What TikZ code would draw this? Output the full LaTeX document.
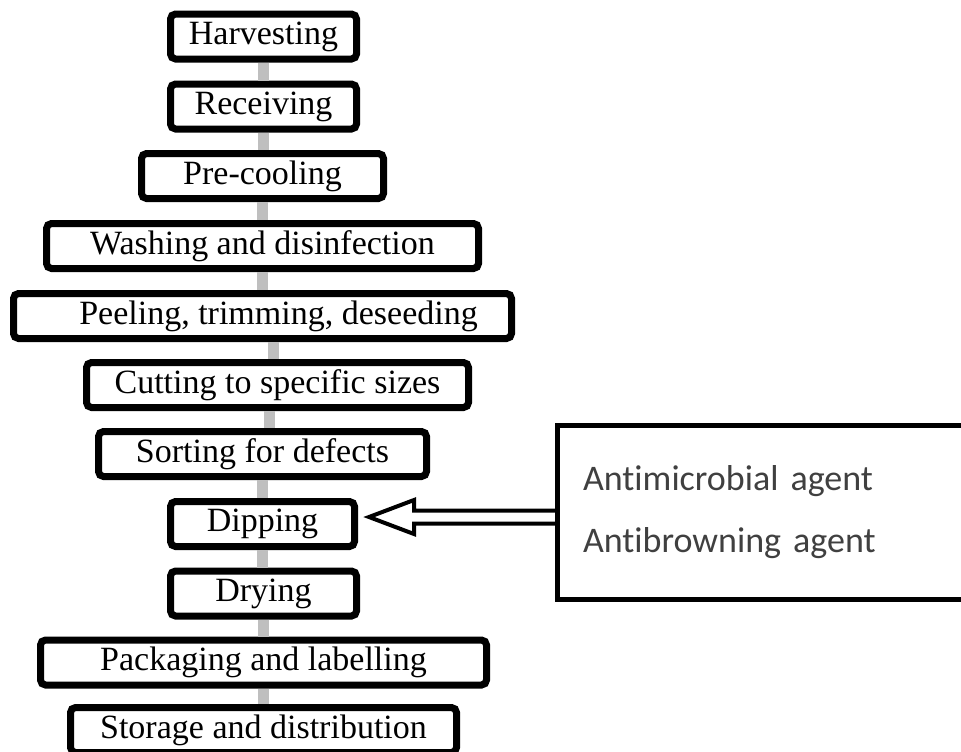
\documentclass[tikz,border=0pt]{standalone}
\usepackage{fontspec}
\setmainfont{Liberation Serif}
\newfontfamily\agentfont[Ligatures=NoCommon]{Carlito}
\usetikzlibrary{arrows.meta,positioning,calc,shadows}

\begin{document}
\begin{tikzpicture}[x=0.5pt,y=-0.5pt,
    stage/.style={draw,line width=3.5pt,rounded corners=2.5pt,fill=white,
      minimum height=22.5pt,inner sep=0pt,font=\fontsize{17}{20}\selectfont,
      drop shadow={opacity=0.2,shadow xshift=1pt,shadow yshift=-1pt}},
    link/.style={line width=5.5pt,draw=gray!50},
    hollow/.style={line width=2pt,line join=miter}]
    \useasboundingbox (0,0) rectangle (961,751);
    \clip (0,0) rectangle (961,751);
    % process stages, top to bottom
    \node[stage,minimum width=93pt]  (harv)    at (263.5,36.5) {Harvesting};
    \node[stage,minimum width=93pt]  (recv)    at (263.5,106.5) {Receiving};
    \node[stage,minimum width=121pt] (precool) at (262.5,176) {Pre-cooling};
    \node[stage,minimum width=216pt] (wash)    at (262.5,246) {Washing and disinfection};
    \node[stage,minimum width=249pt] (peel)    at (262.5,316) {\hspace*{16pt}Peeling, trimming, deseeding};
    \node[stage,minimum width=191pt] (cut)     at (277.5,385) {Cutting to specific sizes};
    \node[stage,minimum width=164pt] (sort)    at (262.5,454) {Sorting for defects};
    \node[stage,minimum width=92pt]  (dip)     at (262.5,524) {Dipping};
    \node[stage,minimum width=93pt]  (dry)     at (263.5,593.5) {Drying};
    \node[stage,minimum width=223pt] (pack)    at (263.5,662.5) {Packaging and labelling};
    \node[stage,minimum width=193pt] (store)   at (263.5,730) {Storage and distribution};
    % gray links between stages
    \foreach \a/\b in {harv/recv,recv/precool,precool/wash,wash/peel,
                       sort/dip,dip/dry,dry/pack,pack/store}
      \draw[link] (\a.south) -- (\a.south |- \b.north);
    \draw[link] ([xshift=-2pt]cut.north |- peel.south) -- ([xshift=-2pt]cut.north);
    \draw[link] ([xshift=-4pt]cut.south) -- ([xshift=-4pt]cut.south |- sort.north);
    % agents box
    \node[draw,line width=2.5pt,minimum width=211.25pt,minimum height=87pt,
          text width=185.75pt,align=left,inner sep=0pt,text=black!75,
          font=\agentfont\fontsize{18}{31}\selectfont]
      (agents) at (768.75,512.5) {Antimicrobial agent\\Antibrowning agent};
    % hollow arrow into dipping
    \coordinate (tip) at ([xshift=5.5pt,yshift=3.5pt]dip.east);
    \draw[hollow] ($(agents.west |- tip)+(0,-6.5)$) -- ($(tip)+(45,-6.5)$)
      -- ($(tip)+(45,-17)$) -- (tip) -- ($(tip)+(45,17)$)
      -- ($(tip)+(45,6.5)$) -- ($(agents.west |- tip)+(0,6.5)$);
\end{tikzpicture}
\end{document}
